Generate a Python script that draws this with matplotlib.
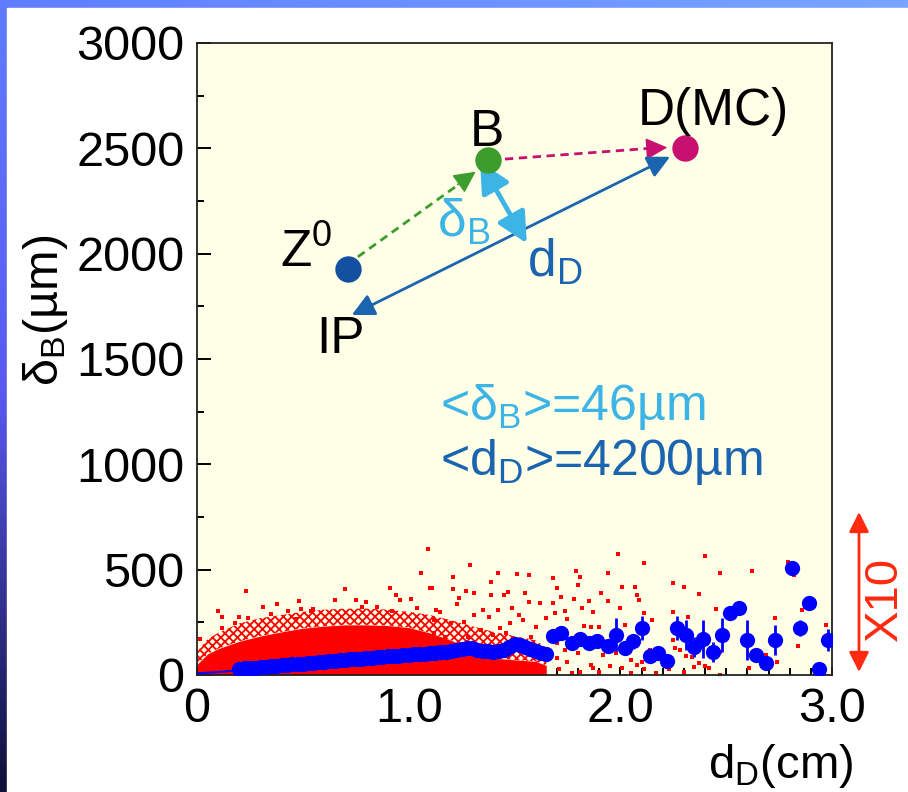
import numpy as np
import matplotlib
matplotlib.use("Agg")
import matplotlib.pyplot as plt
from matplotlib.ticker import MultipleLocator, FixedLocator
from matplotlib.patches import Rectangle

plt.rcParams['font.family'] = ['Liberation Sans', 'DejaVu Sans']
plt.rcParams['mathtext.fontset'] = 'custom'
plt.rcParams['mathtext.rm'] = 'Liberation Sans'
plt.rcParams['mathtext.it'] = 'Liberation Sans'
plt.rcParams['hatch.linewidth'] = 1.3
plt.rcParams['hatch.color'] = 'red'

# ---------------- data ----------------
# binned mean of delta_B vs d_D (dense part, overlapping markers)
blue_dense_x = [0.200, 0.225, 0.250, 0.275, 0.300, 0.325, 0.350, 0.375, 0.400, 0.425,
                0.450, 0.475, 0.500, 0.525, 0.550, 0.575, 0.600, 0.625, 0.650, 0.675,
                0.700, 0.725, 0.750, 0.775, 0.800, 0.825, 0.850, 0.875, 0.900, 0.925,
                0.950, 0.975, 1.000, 1.025, 1.050, 1.075, 1.100, 1.125, 1.150, 1.175,
                1.200, 1.225, 1.250, 1.275, 1.300, 1.325, 1.350, 1.375, 1.400, 1.425,
                1.450, 1.475, 1.500, 1.525, 1.550, 1.575, 1.600, 1.625, 1.650]
blue_dense_y = [30, 31, 34, 35, 37, 40, 41, 44, 46, 47,
                50, 53, 54, 56, 59, 61, 63, 66, 68, 69,
                72, 75, 76, 78, 80, 83, 84, 86, 88, 91,
                92, 94, 96, 99, 100, 102, 104, 106, 108, 111,
                113, 118, 125, 129, 126, 120, 116, 112, 108, 112,
                120, 132, 146, 144, 132, 122, 114, 106, 100]

# sparse bins with error bars
blue_x = [1.68, 1.72, 1.77, 1.81, 1.85, 1.89, 1.94, 1.98, 2.02, 2.06, 2.10, 2.14, 2.18,
          2.22, 2.27, 2.31, 2.35, 2.39, 2.44, 2.48, 2.52, 2.56, 2.60, 2.64, 2.69, 2.73,
          2.81, 2.85, 2.89, 2.94, 2.98]
blue_y = [185, 199, 152, 170, 152, 160, 140, 192, 130, 160, 223, 88, 106,
          66, 223, 190, 133, 173, 109, 190, 294, 318, 166, 95, 57, 166,
          508, 223, 344, 30, 168]
blue_err = [20, 25, 20, 20, 20, 20, 20, 80, 30, 35, 58, 20, 25,
            20, 55, 71, 47, 90, 47, 81, 20, 20, 95, 25, 20, 73,
            20, 40, 20, 20, 52]

# thin line at very small d_D
blue_line_x = [0.0, 0.1, 0.2]
blue_line_y = [8, 14, 22]

# red scatter: dense core (solid) and speckled zone envelopes
env_x = [0.0, 0.05, 0.10, 0.20, 0.30, 0.40, 0.50, 0.60, 0.70, 0.80, 0.90, 1.00,
         1.10, 1.20, 1.30, 1.40, 1.50, 1.60, 1.65]
env_core = [50, 100, 125, 160, 185, 205, 222, 232, 238, 238, 235, 225,
            200, 165, 120, 80, 72, 65, 45]
env_outer = [110, 170, 200, 245, 270, 285, 300, 310, 315, 315, 310, 300,
             285, 260, 232, 205, 185, 165, 130]

# isolated red points
red_x = [0.23, 0.10, 0.12, 0.014, 0.31, 0.38, 0.48, 0.20, 0.35, 0.43, 0.49, 0.54, 0.12, 0.18, 0.24, 0.47,
         1.09, 1.06, 1.10, 0.70, 0.65, 0.91, 0.94, 0.96, 1.01, 0.75, 0.80, 0.55, 0.85, 0.92, 1.04, 1.13, 0.78,
         1.29, 1.21, 1.42, 1.51, 1.57, 1.39, 1.68, 1.11, 1.21, 1.27, 1.31, 1.47, 1.55, 1.70, 1.39, 1.45,
         1.24, 1.62, 1.57, 1.23, 1.35, 1.42, 1.49, 1.52, 1.15, 1.31, 1.38, 1.65, 1.12, 1.20, 1.26, 1.43,
         1.48, 1.54, 1.60, 1.34, 1.12, 1.17, 1.28, 1.40, 1.46, 1.50, 1.58, 1.69,
         1.99, 2.11, 1.79, 1.81, 1.94, 1.80, 2.01, 2.07, 2.25, 1.70, 1.91, 1.72, 1.78, 1.85, 1.94, 2.08,
         2.09, 1.68, 1.82, 1.87, 2.00, 2.11, 2.25, 1.74, 1.69, 1.75, 2.15, 1.83, 2.02, 1.86, 1.90, 2.26,
         1.70, 1.74, 1.80, 1.92, 1.98, 2.05, 2.10, 2.14, 1.70, 1.75, 1.86, 1.87, 1.95, 2.01, 2.08, 2.11,
         2.23, 1.71, 1.81, 1.90, 2.05, 2.17, 1.77,
         2.40, 2.47, 2.62, 2.79, 2.25, 2.30, 2.37, 2.45, 2.25, 2.32, 2.73, 2.86, 2.97, 2.84, 2.28, 2.31,
         2.34, 2.25, 2.69, 2.74, 2.37, 2.40, 2.42, 2.35, 2.30, 2.47, 2.61, 2.47, 2.82]
red_y = [400, 304, 275, 171, 324, 338, 351, 277, 289, 302, 312, 304, 223, 247, 270, 266,
         597, 483, 411, 407, 356, 411, 380, 356, 359, 356, 348, 312, 324, 304, 316, 308, 324,
         522, 467, 486, 479, 475, 443, 462, 411, 407, 400, 391, 395, 391, 414, 380, 380,
         364, 343, 348, 337, 308, 308, 316, 285, 300, 285, 277, 269, 261, 245, 253, 222,
         248, 261, 229, 214, 199, 182, 182, 190, 198, 166, 182, 166,
         574, 533, 494, 467, 486, 427, 419, 419, 438, 411, 391, 372, 359, 351, 351, 380,
         356, 340, 316, 300, 316, 296, 300, 305, 293, 264, 261, 233, 237, 226, 226, 127,
         150, 119, 103, 95, 103, 71, 63, 119, 79, 63, 47, 32, 43, 32, 47, 27,
         27, 27, 16, 16, 11, 11, 8,
         565, 483, 494, 538, 438, 419, 384, 313, 300, 274, 269, 308, 237, 138, 119, 90,
         87, 166, 95, 63, 58, 43, 32, 37, 16, 2, 32, 111, 475]

# ---------------- figure ----------------
W, H = 908, 792
fig = plt.figure(figsize=(W / 100, H / 100), dpi=100)


def fx(px):
    return px / W


def fy(py):
    return 1 - py / H


# blue gradient frame
bg = fig.add_axes([0, 0, 1, 1], zorder=-10)
bg.set_axis_off()
yy = np.linspace(0, 1, H)[:, None]
xx = np.linspace(0, 1, W)[None, :]
top_c = np.array([95, 125, 255]) / 255
mid_c = np.array([88, 88, 240]) / 255
bot_c = np.array([15, 15, 55]) / 255
left = np.where(yy[..., None] < 0.5,
                top_c + (mid_c - top_c) * (yy[..., None] / 0.5),
                mid_c + (bot_c - mid_c) * ((yy[..., None] - 0.5) / 0.5))
img = np.repeat(left, W, axis=1)
right_c = np.array([120, 165, 255]) / 255
toprow = top_c + (right_c - top_c) * xx[..., None]
img[:10, :, :] = np.repeat(toprow, 10, axis=0)
bg.imshow(img, extent=[0, 1, 0, 1], aspect='auto', origin='upper')
bg.add_patch(Rectangle((7 / W, 0), 1, 1 - 8 / H, color='white', transform=bg.transAxes))
bg.set_xlim(0, 1)
bg.set_ylim(0, 1)

ax = fig.add_axes([fx(197), fy(675), (832 - 197) / W, (675 - 43) / H])
ax.set_facecolor('#ffffe8')
ax.set_xlim(0, 3.0)
ax.set_ylim(0, 3000)

# red cloud
ax.fill_between(env_x, 0, env_core, color='red', lw=0, zorder=2)
ax.fill_between(env_x, env_core, env_outer, facecolor='none', edgecolor='red',
                hatch='xxxx', lw=0, zorder=2)
ax.plot(red_x, red_y, 's', color='red', ms=2.6, mew=0, zorder=2)

# blue means
ax.plot(blue_line_x, blue_line_y, '-', color='#0000ff', lw=1.5, zorder=3)
ax.plot(blue_dense_x, blue_dense_y, 'o', color='#0000ff', ms=11, mew=0, zorder=3)
ax.errorbar(blue_x, blue_y, yerr=blue_err, fmt='o', color='#0000ff', ms=11, mew=0,
            elinewidth=2, capsize=0, zorder=3)

# ticks
ax.xaxis.set_major_locator(FixedLocator([0, 1, 2, 3]))
ax.set_xticklabels(['0', '1.0', '2.0', '3.0'])
ax.xaxis.set_minor_locator(MultipleLocator(0.1))
ax.yaxis.set_major_locator(MultipleLocator(500))
ax.yaxis.set_minor_locator(MultipleLocator(250))
ax.tick_params(axis='both', which='both', direction='in', width=1.4, colors='black')
ax.tick_params(axis='y', which='major', length=10, pad=9, labelsize=35)
ax.tick_params(axis='y', which='minor', length=5)
ax.tick_params(axis='x', which='major', length=6, pad=9, labelsize=35)
ax.tick_params(axis='x', which='minor', length=5)
for s in ax.spines.values():
    s.set_linewidth(1.3)
    s.set_color('#222222')

# ---------------- event-sketch annotation ----------------
c_z = '#1450a0'
c_b = '#3c9c2c'
c_d = '#c8106e'
c_dd = '#1a64b0'
c_db = '#3cb4e6'

ax.plot([0.715], [1925], 'o', color=c_z, ms=19, mew=0, zorder=6)
ax.plot([1.373], [2444], 'o', color=c_b, ms=19, mew=0, zorder=6)
ax.plot([2.305], [2500], 'o', color=c_d, ms=19, mew=0, zorder=6)

# Z0 -> B (green dashed)
ax.plot([0.76, 1.28], [1985, 2360], '--', color=c_b, lw=2, dashes=(3, 2), zorder=4)
ax.annotate('', xy=(1.327, 2397), xytext=(1.22, 2320),
            arrowprops=dict(arrowstyle='-|>', color=c_b, lw=1, mutation_scale=34), zorder=5)
# B -> D (magenta dashed)
ax.plot([1.455, 2.18], [2449, 2503], '--', color=c_d, lw=2, dashes=(3, 2), zorder=4)
ax.annotate('', xy=(2.235, 2505), xytext=(2.11, 2497),
            arrowprops=dict(arrowstyle='-|>', color=c_d, lw=1, mutation_scale=34), zorder=5)
# IP <-> D (decay length)
ax.annotate('', xy=(0.731, 1709), xytext=(2.235, 2460),
            arrowprops=dict(arrowstyle='<|-|>', color=c_dd, lw=2, mutation_scale=34,
                            shrinkA=0, shrinkB=0), zorder=5)
# delta_B (impact parameter)
ax.annotate('', xy=(1.337, 2437), xytext=(1.558, 2049),
            arrowprops=dict(arrowstyle='<|-|>', color=c_db, lw=3.5, mutation_scale=46,
                            shrinkA=0, shrinkB=0), zorder=5)

ax.text(0.6425, 1937, 'Z$\\mathregular{^0}$', fontsize=37, ha='right', va='baseline', zorder=7)
ax.text(1.37, 2511, 'B', fontsize=37, ha='center', va='baseline', zorder=7)
ax.text(2.438, 2611, 'D(MC)', fontsize=37, ha='center', va='baseline', zorder=7)
ax.text(0.676, 1528, 'IP', fontsize=37, ha='center', va='baseline', zorder=7)
ax.text(1.134, 2079, '$\\mathregular{δ_B}$', fontsize=37, color=c_db, ha='left',
        va='baseline', zorder=7)
ax.text(1.559, 1889, '$\\mathregular{d_D}$', fontsize=37, color=c_dd, ha='left',
        va='baseline', zorder=7)
ax.text(1.148, 1210, '<$\\mathregular{δ_B}$>=46µm', fontsize=36, color=c_db, ha='left',
        va='baseline', zorder=7)
ax.text(1.148, 949, '<$\\mathregular{d_D}$>=4200µm', fontsize=36, color=c_dd, ha='left',
        va='baseline', zorder=7)

# axis titles
fig.text(fx(45), fy(310), '$\\mathregular{δ_B}$(µm)', fontsize=35, rotation=90,
         ha='center', va='center')
fig.text(fx(853), fy(778), '$\\mathregular{d_D}$(cm)', fontsize=34, ha='right', va='baseline')

# "X10" scale marker
ax.annotate('', xy=(859, H - 512), xytext=(859, H - 672), xycoords='figure pixels',
            textcoords='figure pixels',
            arrowprops=dict(arrowstyle='<|-|>', color='#ff2a10', lw=2, mutation_scale=30,
                            shrinkA=0, shrinkB=0), annotation_clip=False)
fig.text(fx(885), fy(599), 'X10', fontsize=34, color='#ff2a10', rotation=90,
         ha='center', va='center')

fig.savefig('out.png', dpi=100)
